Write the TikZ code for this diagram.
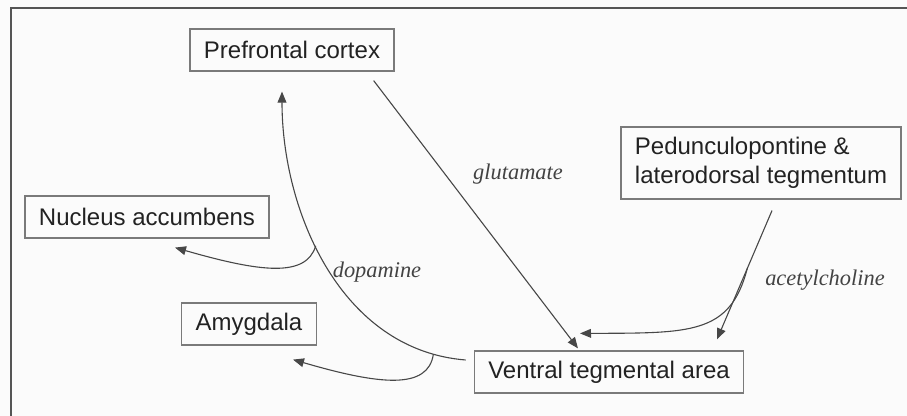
\documentclass[tikz,border=0pt]{standalone}
\usepackage{fontspec}
\setmainfont{Liberation Sans}
\newfontfamily\labelfont{Liberation Serif}
\usetikzlibrary{arrows.meta, positioning, calc}

\definecolor{linegray}{HTML}{474747}
\definecolor{boxgray}{HTML}{7A7A7A}
\definecolor{textgray}{HTML}{222222}
\definecolor{paper}{HTML}{FBFBFB}
\definecolor{framegray}{HTML}{555555}

\begin{document}
\begin{tikzpicture}[
    x=0.5pt, y=-0.5pt,
    region/.style={rectangle, draw=boxgray, line width=0.6pt, text=textgray, inner xsep=7pt, minimum height=21pt, font=\fontsize{12}{14.5}\selectfont},
    transmitter/.style={text=textgray!85, font=\labelfont\itshape\fontsize{11.2}{13}\selectfont},
    arrow/.style={-{Triangle[length=5.5pt, width=4.4pt]}, draw=linegray, line width=0.55pt}
]
\fill[paper] (0,0) rectangle (907,416);
\useasboundingbox (0,0) rectangle (907,416);
\draw[framegray, line width=1pt] (11,416) -- (11,8) -- (907,8);

\node[region] (pfc) at (292,50) {Prefrontal cortex};
\node[region, align=left, minimum height=36pt] (ppt) at (761,163) {Pedunculopontine \&\\laterodorsal tegmentum};
\node[region] (nacc) at (147,217) {Nucleus accumbens};
\node[region] (amy) at (249,324) {Amygdala};
\node[region] (vta) at (609,372) {Ventral tegmental area};

\node[transmitter] (glu) at (518,174) {glutamate};
\node[transmitter] (da) at (377,272) {dopamine};
\node[transmitter] (ach) at (825,280) {acetylcholine};

% glutamate
\draw[arrow] ($(pfc.south east)+(-21,9)$) -- ($(vta.north)+(-31,-2)$);

% dopamine and its two side branches
\draw[arrow] ($(vta.west)+(-8,-12)$) .. controls (340,350) and (282,210) .. ($(pfc.south)+(-10,20)$)
    coordinate[pos=0.09] (amy split) coordinate[pos=0.565] (nacc split);
\draw[arrow] (nacc split) .. controls (306,278) and (260,272) .. ($(nacc.south)+(28,9)$);
\draw[arrow] (amy split) .. controls (428,390) and (380,385) .. ($(amy.south)+(44,14)$);

% acetylcholine
\draw[arrow] ($(ppt.south)+(11,11)$) -- ($(vta.north)+(108,-11)$) coordinate[pos=0.45] (ach split);
\draw[arrow] (ach split) .. controls (730,335) and (690,333) .. ($(vta.north)+(-29,-17)$);

\end{tikzpicture}
\end{document}
